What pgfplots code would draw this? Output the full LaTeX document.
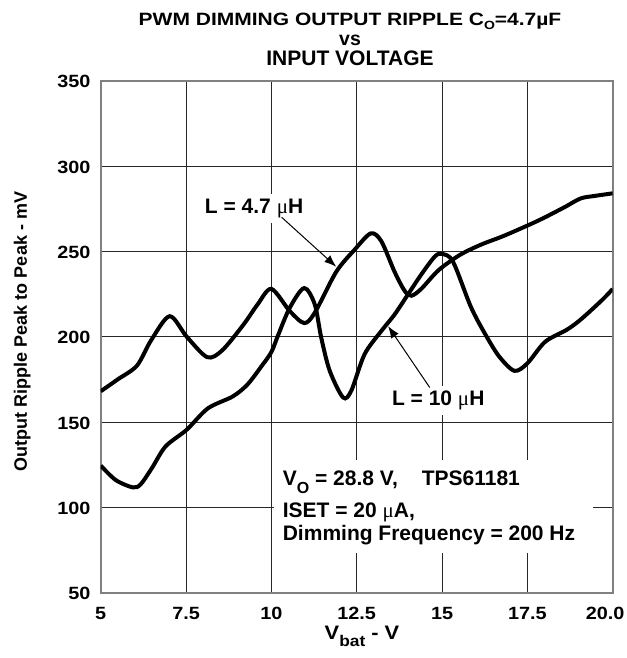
\documentclass[border=0pt]{standalone}
\usepackage{fontspec}
\setmainfont{Liberation Sans}
\newfontfamily\tickfont{Liberation Sans}[FakeStretch=1.12]
\newfontfamily\seriffont{Liberation Serif}
\usepackage{pgfplots}
\pgfplotsset{compat=1.18}
\usetikzlibrary{arrows.meta}
\newcommand{\smu}{{\seriffont\mdseries μ}}
\newcommand{\annfont}{\bfseries\fontsize{21}{21}\selectfont}
\begin{document}
\begin{tikzpicture}
\useasboundingbox (0pt,0pt) rectangle (626pt,658pt);
% titles
\node[anchor=base, inner sep=0pt, font=\bfseries\fontsize{21}{21}\selectfont] at (350pt,632pt)
  {\scalebox{1}[0.85]{PWM DIMMING OUTPUT RIPPLE C\raisebox{-4pt}{\fontsize{14}{14}\selectfont O}=4.7µF}};
\node[anchor=base, inner sep=0pt, font=\bfseries\fontsize{19.5}{19.5}\selectfont] at (350pt,612.7pt) {vs};
\node[anchor=base, inner sep=0pt, font=\bfseries\fontsize{21}{21}\selectfont] at (350pt,592.0pt) {INPUT VOLTAGE};
% y label
\node[anchor=base, rotate=90, inner sep=0pt, font=\bfseries\fontsize{18}{18}\selectfont] at (26.9pt,326.5pt)
  {Output Ripple Peak to Peak - mV};
% x label
\node[anchor=base, inner sep=0pt, font=\tickfont\bfseries\fontsize{19.5}{19.5}\selectfont] at (362pt,18pt)
  {V\raisebox{-7pt}{\fontsize{15.5}{15.5}\selectfont bat} - V};
\begin{axis}[
  at={(100.7pt,65.3pt)}, anchor=south west,
  width=512pt, height=512pt, scale only axis,
  xmin=5, xmax=20, ymin=50, ymax=350,
  xtick={5,7.5,10,12.5,15,17.5,20},
  xticklabels={5,7.5,10,12.5,15,17.5,\makebox[0pt]{20.0\kern15pt}},
  ytick={50,100,150,200,250,300,350},
  grid=major,
  major grid style={black!85, line width=1pt},
  axis line style={draw=gray, line width=2pt},
  major tick length=0pt,
  /pgf/number format/assume math mode=true,
  tick label style={font=\tickfont\bfseries\fontsize{17.7}{17.7}\selectfont, inner sep=0pt},
  yticklabel style={xshift=-10pt, yshift=-1pt},
  xticklabel style={yshift=-14pt},
]
% L = 4.7 uH
\addplot[black, line width=4pt, smooth, tension=0.5] coordinates {
(5,168) (5.5,175) (6.06,183) (6.48,198) (7.02,212) (7.52,200) (8.12,188)
(8.56,192) (9.18,207) (9.6,219) (10,228) (10.54,215) (10.96,208) (11.27,214)
(11.9,238) (12.44,251) (12.91,260.5) (13.22,256) (13.61,238) (13.9,227)
(14.1,224) (14.39,228) (14.9,239) (15.53,248) (16.15,254) (16.8,259)
(17.6,266) (18.02,270) (18.6,276) (19.06,281) (19.48,282.5) (20,284)
};
% L = 10 uH
\addplot[black, line width=4pt, smooth, tension=0.5] coordinates {
(5,124.5) (5.44,116) (5.94,111.7) (6.17,113.5) (6.5,123) (6.9,135.7)
(7.52,145.5) (8.14,158) (8.87,165) (9.3,172) (9.7,182.4) (10,191)
(10.2,201) (10.54,217) (10.96,228.5) (11.27,219) (11.46,199.5) (11.71,180)
(12.1,164.4) (12.34,168.3) (12.73,189.7) (13.22,203.3) (13.61,213)
(14,224.7) (14.39,236.4) (14.79,247) (15,248.5) (15.32,244) (15.84,217.7)
(16.25,202) (16.67,188.5) (17.12,180) (17.5,184.4) (18.02,197) (18.65,204)
(19.06,210) (19.69,221.5) (20,228)
};
% labels with arrows
\node[anchor=base west, fill=white, inner xsep=1pt, inner ysep=5pt, font=\annfont] at (axis cs:8.02,272) {L = 4.7 \smu H};
\draw[line width=1pt, -{Latex[length=12pt,width=9pt]}] (axis cs:10.3,270) -- (axis cs:11.9,241);
\node[anchor=base west, fill=white, inner xsep=1pt, inner ysep=5pt, font=\annfont] at (axis cs:13.5,159.5) {L = 10 \smu H};
\draw[line width=1pt, -{Latex[length=12pt,width=9pt]}] (axis cs:14.64,170.2) -- (axis cs:13.42,206.2);
% conditions box
\fill[white] (axis cs:10.07,73) rectangle (axis cs:19.43,127.7);
\node[anchor=base west, inner sep=0pt, font=\annfont] at (axis cs:10.33,113.1)
  {V\raisebox{-8pt}{\fontsize{16}{16}\selectfont O} = 28.8 V,\hspace{24pt}TPS61181};
\node[anchor=base west, inner sep=0pt, font=\annfont] at (axis cs:10.33,94.2) {ISET = 20 \smu A,};
\node[anchor=base west, inner sep=0pt, font=\annfont] at (axis cs:10.33,80.5) {Dimming Frequency = 200 Hz};
\end{axis}
\end{tikzpicture}
\end{document}
